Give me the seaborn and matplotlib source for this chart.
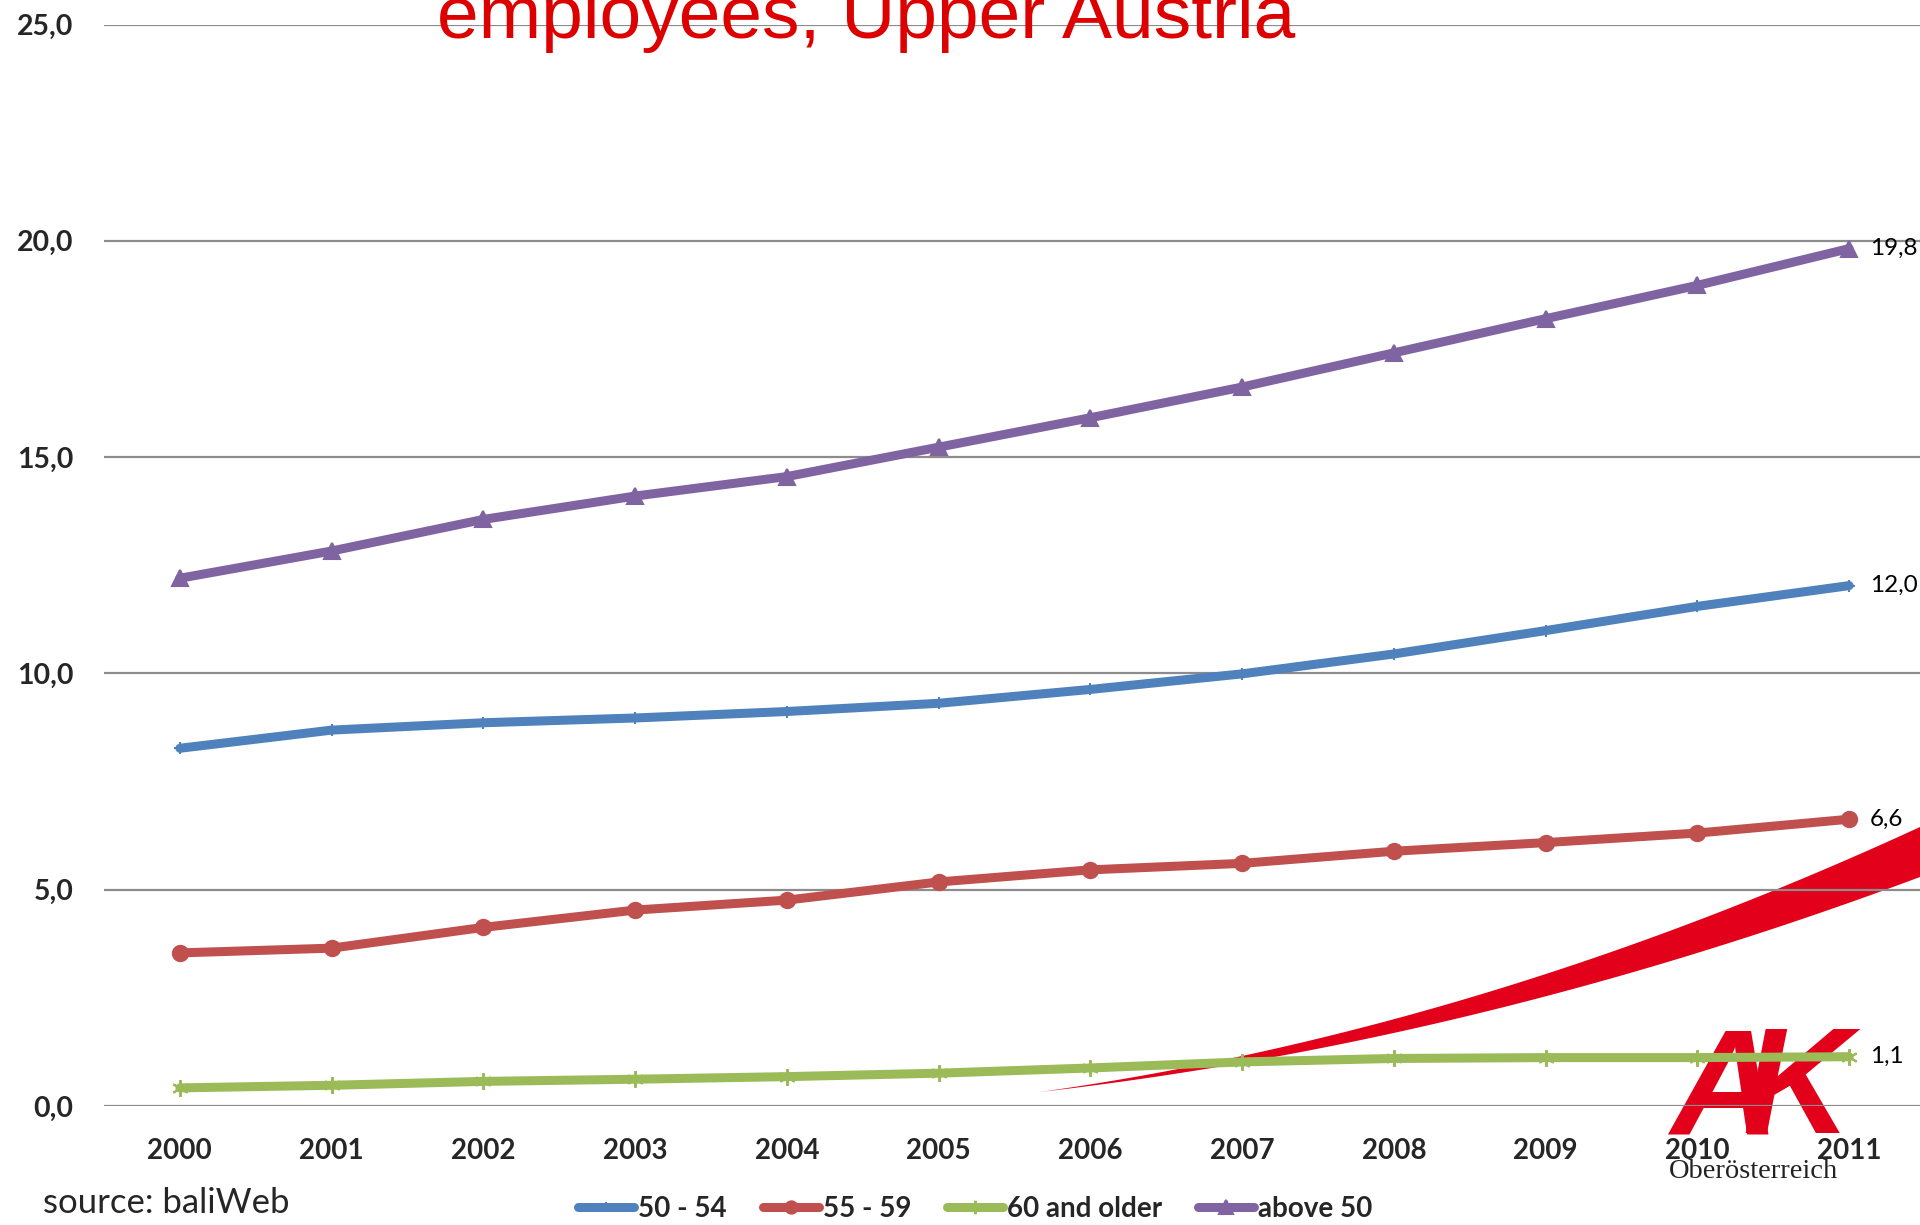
import numpy as np
import pandas as pd
import matplotlib.pyplot as plt
import seaborn as sns
from matplotlib.lines import Line2D

sns.set_style('white')
plt.rcParams['font.family'] = ['Lato', 'DejaVu Sans']

# values
years = list(range(2000, 2012))
age_50_54 = [8.27, 8.69, 8.86, 8.97, 9.12, 9.31, 9.63, 9.99, 10.45, 10.99, 11.55, 12.03]
age_55_59 = [3.54, 3.65, 4.13, 4.53, 4.76, 5.18, 5.46, 5.61, 5.89, 6.09, 6.31, 6.63]
age_60_plus = [0.42, 0.48, 0.57, 0.62, 0.68, 0.76, 0.88, 1.02, 1.10, 1.12, 1.12, 1.14]
above_50 = [12.20, 12.83, 13.56, 14.10, 14.55, 15.23, 15.91, 16.62, 17.41, 18.20, 18.97, 19.82]

series_names = ['50 - 54', '55 - 59', '60 and older', 'above 50']
series_values = [age_50_54, age_55_59, age_60_plus, above_50]
colors = ['#4F81BD', '#C0504D', '#9BBB59', '#8064A2']
markers = ['+', 'o', (6, 2, 0), '^']
marker_sizes = [9, 11, 12, 12]
y_ticks = [0, 5, 10, 15, 20, 25]
y_tick_labels = ['0,0', '5,0', '10,0', '15,0', '20,0', '25,0']

df = pd.DataFrame({
    'year': years * len(series_names),
    'value': sum(series_values, []),
    'series': [n for n in series_names for _ in years],
})

W, H = 1920, 1225
fig = plt.figure(figsize=(19.2, 12.25), dpi=100)
ax = fig.add_axes([104 / W, 0.0971, 1821 / W, 0.8829])
ax.set_facecolor('none')

for name, col, mk, ms in zip(series_names, colors, markers, marker_sizes):
    sns.lineplot(data=df[df['series'] == name], x='year', y='value', color=col,
                 marker=mk, markersize=ms, markeredgecolor=col, markeredgewidth=1.5,
                 linewidth=6.5, ax=ax, legend=False, zorder=3)
    last = df[df['series'] == name]['value'].iloc[-1]
    ax.annotate(f'{last:.1f}'.replace('.', ','), (years[-1], last), xytext=(15, 0),
                textcoords='offset points', va='center', ha='left', fontsize=17.5,
                color='black', annotation_clip=False)

ax.set_xlim(years[0] - 0.5, years[-1] + 0.5)
ax.set_ylim(0, 25)
ax.set_xticks(years)
ax.set_xticklabels([str(y) for y in years], fontsize=20, fontweight='bold')
ax.set_yticks(y_ticks)
ax.set_yticklabels(y_tick_labels, fontsize=20.5, fontweight='bold')
ax.tick_params(axis='y', length=0, pad=22)
ax.tick_params(axis='x', length=0, pad=23)
ax.set_xlabel('')
ax.set_ylabel('')
ax.yaxis.grid(True, color='#8c8c8c', linewidth=1.6)
ax.xaxis.grid(False)
ax.set_axisbelow(True)
sns.despine(ax=ax, left=True, bottom=True)

# red swoosh of the AK logo (decoration, in figure pixels)
t = np.linspace(0, 1, 200)
shape = 0.47 * t + 0.53 * t ** 2
sx = 1040 + 880 * t
upper = 1092 - 265 * shape
lower = 1092 - 215 * shape
px = np.concatenate([sx, sx[::-1]])
py = np.concatenate([upper, lower[::-1]])
ax.fill(px / W, 1 - py / H, transform=fig.transFigure, color='#E2001A',
        zorder=0.3, clip_on=False, linewidth=0)

ax.text(1670 / W, 1 - 1133 / H, 'A', transform=fig.transFigure, fontsize=108,
        family='Liberation Sans', fontweight='bold', fontstyle='italic',
        color='#E2001A', ha='left', va='baseline', zorder=0.2, clip_on=False)
ax.text(1742 / W, 1 - 1133 / H, 'K', transform=fig.transFigure, fontsize=108,
        family='Liberation Sans', fontweight='bold', fontstyle='italic',
        color='#E2001A', ha='left', va='baseline', zorder=0.2, clip_on=False)
fig.text(1753 / W, 1 - 1178 / H, 'Oberösterreich', family='Liberation Serif',
         fontsize=20.5, color='#222222', ha='center', va='baseline')

# title, partly cut off at the top edge as in the slide
fig.text(437 / W, 1 - 38 / H, 'employees, Upper Austria', family='Liberation Sans',
         fontsize=54, color='#DD0000', ha='left', va='baseline')

fig.text(43 / W, 1 - 1203 / H, 'source: baliWeb', fontsize=25, va='center', ha='left')

handles = [Line2D([0], [0], color=c, lw=6.5, marker=m, markersize=ms * 0.8,
                  markeredgecolor=c, markeredgewidth=1.5)
           for c, m, ms in zip(colors, markers, marker_sizes)]
fig.legend(handles, series_names, loc='center', bbox_to_anchor=(0.508, 1 - 1209 / H),
           ncol=4, frameon=False, handlelength=2.0, handletextpad=0.15,
           columnspacing=1.3, prop={'weight': 'bold', 'size': 20}, borderpad=0)

fig.savefig('out.png', dpi=100)
